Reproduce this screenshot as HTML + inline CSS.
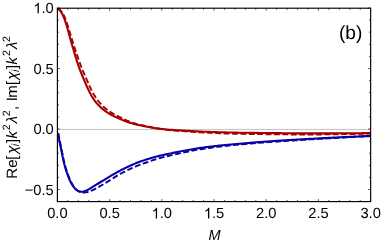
<!DOCTYPE html>
<html><head><meta charset="utf-8"><title>plot</title>
<style>
html,body{margin:0;padding:0;background:#fff;}
body{width:382px;height:244px;overflow:hidden;}
svg{display:block;will-change:transform;}
text{font-family:"Liberation Sans",sans-serif;fill:#000;text-rendering:geometricPrecision;}
</style></head><body>
<svg width="382" height="244" viewBox="0 0 382 244">
<rect width="382" height="244" fill="#fff"/>
<defs><clipPath id="c"><rect x="57.4" y="8.2" width="313.25" height="193.4"/></clipPath></defs><line x1="57.4" y1="129.45" x2="370.65" y2="129.45" stroke="#a8a8a8" stroke-width="0.7"/><g clip-path="url(#c)" fill="none" stroke-linejoin="round"><path d="M57.80 8.30 L59.16 9.23 L60.15 10.07 L61.16 11.11 L62.05 12.27 L62.84 13.52 L63.56 14.82 L64.22 16.15 L64.83 17.49 L65.39 18.85 L65.91 20.24 L66.42 21.63 L66.90 23.04 L67.37 24.44 L67.83 25.85 L68.27 27.26 L68.70 28.67 L69.13 30.08 L69.55 31.50 L69.97 32.91 L70.39 34.33 L70.82 35.74 L71.24 37.16 L71.67 38.57 L72.11 39.98 L72.55 41.39 L73.01 42.80 L73.46 44.20 L73.93 45.60 L74.40 47.00 L74.86 48.40 L75.33 49.81 L75.80 51.21 L76.27 52.61 L76.74 54.01 L77.22 55.41 L77.69 56.80 L78.17 58.20 L78.66 59.59 L79.15 60.99 L79.65 62.38 L80.15 63.77 L80.65 65.16 L81.17 66.54 L81.69 67.92 L82.23 69.30 L82.78 70.67 L83.35 72.03 L83.94 73.38 L84.53 74.74 L85.13 76.08 L85.74 77.43 L86.35 78.78 L86.95 80.13 L87.55 81.48 L88.14 82.84 L88.73 84.20 L89.32 85.55 L89.93 86.90 L90.55 88.24 L91.19 89.57 L91.86 90.88 L92.56 92.18 L93.28 93.47 L94.03 94.75 L94.81 96.01 L95.61 97.26 L96.44 98.48 L97.29 99.68 L98.18 100.85 L99.10 102.00 L100.06 103.12 L101.06 104.23 L102.09 105.30 L103.14 106.34 L104.22 107.34 L105.33 108.31 L106.47 109.24 L107.64 110.14 L108.84 111.01 L110.07 111.84 L111.31 112.64 L112.57 113.41 L113.85 114.14 L115.15 114.83 L116.46 115.50 L117.79 116.16 L119.13 116.80 L120.46 117.45 L121.79 118.10 L123.12 118.75 L124.44 119.40 L125.78 120.04 L127.12 120.65 L128.48 121.22 L129.85 121.77 L131.23 122.29 L132.62 122.79 L134.03 123.26 L135.44 123.70 L136.85 124.11 L138.28 124.49 L139.71 124.84 L141.14 125.17 L142.59 125.48 L144.04 125.78 L145.49 126.08 L146.94 126.37 L148.38 126.67 L149.83 126.97 L151.28 127.29 L152.72 127.60 L154.16 127.91 L155.61 128.19 L157.07 128.45 L158.52 128.69 L159.98 128.91 L161.44 129.13 L162.91 129.33 L164.37 129.52 L165.84 129.70 L167.31 129.87 L168.78 130.03 L170.25 130.18 L171.72 130.31 L173.19 130.44 L174.66 130.55 L176.13 130.66 L177.61 130.77 L179.08 130.87 L180.55 130.97 L182.03 131.07 L183.50 131.17 L184.98 131.27 L186.45 131.37 L187.92 131.48 L189.40 131.59 L190.87 131.69 L192.34 131.79 L193.82 131.90 L195.29 132.00 L196.76 132.10 L198.24 132.19 L199.71 132.28 L201.19 132.37 L202.66 132.45 L204.14 132.53 L205.61 132.60 L207.09 132.67 L208.56 132.75 L210.04 132.82 L211.51 132.89 L212.99 132.95 L214.46 133.02 L215.94 133.09 L217.41 133.15 L218.89 133.21 L220.37 133.27 L221.84 133.33 L223.32 133.38 L224.79 133.43 L226.27 133.48 L227.75 133.53 L229.22 133.58 L230.70 133.62 L232.18 133.66 L233.65 133.69 L235.13 133.73 L236.61 133.76 L238.08 133.79 L239.56 133.82 L241.03 133.85 L242.51 133.88 L243.99 133.90 L245.46 133.93 L246.94 133.95 L248.42 133.98 L249.90 134.00 L251.37 134.02 L252.85 134.04 L254.33 134.06 L255.80 134.08 L257.28 134.10 L258.76 134.12 L260.23 134.14 L261.71 134.16 L263.19 134.17 L264.67 134.19 L266.14 134.20 L267.62 134.22 L269.10 134.23 L270.57 134.24 L272.05 134.26 L273.53 134.27 L275.00 134.29 L276.48 134.30 L277.96 134.32 L279.43 134.33 L280.91 134.34 L282.39 134.36 L283.87 134.37 L285.34 134.38 L286.82 134.39 L288.30 134.41 L289.77 134.42 L291.25 134.43 L292.73 134.44 L294.20 134.45 L295.68 134.46 L297.16 134.46 L298.64 134.47 L300.11 134.48 L301.59 134.48 L303.07 134.49 L304.54 134.49 L306.02 134.50 L307.50 134.50 L308.97 134.50 L310.45 134.50 L311.93 134.50 L313.40 134.49 L314.88 134.49 L316.36 134.48 L317.84 134.47 L319.31 134.46 L320.79 134.44 L322.27 134.43 L323.74 134.41 L325.22 134.40 L326.70 134.38 L328.17 134.36 L329.65 134.34 L331.13 134.32 L332.60 134.30 L334.08 134.28 L335.56 134.26 L337.04 134.24 L338.51 134.22 L339.99 134.20 L341.47 134.18 L342.94 134.16 L344.42 134.14 L345.90 134.11 L347.37 134.09 L348.85 134.06 L350.33 134.04 L351.80 134.01 L353.28 133.98 L354.76 133.96 L356.23 133.93 L357.71 133.90 L359.19 133.87 L360.66 133.84 L362.14 133.80 L363.62 133.77 L365.09 133.74 L366.57 133.70 L368.05 133.67 L369.36 133.64 L371.00 133.60" stroke="#a80000" stroke-width="1.9" stroke-dasharray="5.8 2.6"/><path d="M57.50 8.30 L58.80 9.32 L59.73 10.23 L60.67 11.34 L61.49 12.56 L62.22 13.87 L62.88 15.21 L63.49 16.56 L64.05 17.93 L64.57 19.32 L65.06 20.73 L65.54 22.14 L65.99 23.56 L66.44 24.98 L66.87 26.40 L67.28 27.82 L67.69 29.25 L68.09 30.68 L68.48 32.11 L68.87 33.55 L69.25 34.98 L69.64 36.41 L70.02 37.85 L70.42 39.28 L70.82 40.70 L71.24 42.13 L71.66 43.55 L72.08 44.98 L72.51 46.40 L72.94 47.82 L73.37 49.24 L73.79 50.66 L74.22 52.08 L74.64 53.51 L75.06 54.93 L75.48 56.35 L75.91 57.77 L76.35 59.19 L76.80 60.61 L77.25 62.02 L77.72 63.43 L78.19 64.84 L78.67 66.24 L79.16 67.65 L79.66 69.04 L80.17 70.43 L80.71 71.82 L81.25 73.20 L81.81 74.57 L82.38 75.94 L82.96 77.31 L83.54 78.68 L84.12 80.05 L84.70 81.41 L85.28 82.78 L85.86 84.15 L86.45 85.51 L87.05 86.87 L87.67 88.22 L88.31 89.56 L88.96 90.89 L89.63 92.21 L90.33 93.53 L91.04 94.85 L91.78 96.15 L92.54 97.43 L93.33 98.68 L94.15 99.90 L95.02 101.09 L95.92 102.25 L96.88 103.39 L97.88 104.50 L98.91 105.58 L99.98 106.62 L101.07 107.64 L102.18 108.61 L103.32 109.55 L104.49 110.46 L105.69 111.33 L106.92 112.18 L108.17 112.99 L109.44 113.77 L110.72 114.51 L112.02 115.22 L113.34 115.90 L114.68 116.54 L116.03 117.16 L117.39 117.77 L118.75 118.36 L120.12 118.95 L121.48 119.53 L122.85 120.11 L124.23 120.67 L125.61 121.22 L127.00 121.73 L128.40 122.21 L129.81 122.67 L131.23 123.10 L132.66 123.52 L134.09 123.91 L135.53 124.28 L136.97 124.63 L138.42 124.96 L139.87 125.28 L141.32 125.58 L142.78 125.87 L144.23 126.15 L145.69 126.42 L147.16 126.69 L148.62 126.95 L150.08 127.21 L151.54 127.47 L153.01 127.71 L154.47 127.95 L155.94 128.17 L157.41 128.37 L158.88 128.57 L160.35 128.75 L161.83 128.93 L163.30 129.11 L164.78 129.27 L166.26 129.42 L167.73 129.57 L169.21 129.70 L170.69 129.81 L172.17 129.92 L173.65 130.02 L175.13 130.11 L176.61 130.20 L178.10 130.28 L179.58 130.36 L181.06 130.44 L182.54 130.52 L184.03 130.60 L185.51 130.69 L186.99 130.78 L188.47 130.87 L189.95 130.96 L191.43 131.05 L192.92 131.14 L194.40 131.23 L195.88 131.31 L197.36 131.40 L198.84 131.48 L200.33 131.55 L201.81 131.62 L203.29 131.68 L204.77 131.75 L206.26 131.80 L207.74 131.86 L209.22 131.91 L210.71 131.97 L212.19 132.02 L213.67 132.07 L215.16 132.12 L216.64 132.17 L218.12 132.21 L219.61 132.26 L221.09 132.30 L222.58 132.34 L224.06 132.38 L225.54 132.42 L227.03 132.46 L228.51 132.49 L230.00 132.52 L231.48 132.55 L232.96 132.58 L234.45 132.61 L235.93 132.63 L237.42 132.66 L238.90 132.68 L240.38 132.70 L241.87 132.72 L243.35 132.75 L244.84 132.76 L246.32 132.78 L247.81 132.80 L249.29 132.82 L250.77 132.84 L252.26 132.85 L253.74 132.87 L255.23 132.89 L256.71 132.90 L258.20 132.92 L259.68 132.93 L261.16 132.95 L262.65 132.96 L264.13 132.98 L265.62 133.00 L267.10 133.01 L268.58 133.03 L270.07 133.05 L271.55 133.06 L273.04 133.08 L274.52 133.10 L276.01 133.12 L277.49 133.13 L278.97 133.15 L280.46 133.17 L281.94 133.19 L283.43 133.21 L284.91 133.22 L286.40 133.24 L287.88 133.26 L289.36 133.27 L290.85 133.29 L292.33 133.30 L293.82 133.32 L295.30 133.33 L296.79 133.34 L298.27 133.35 L299.75 133.36 L301.24 133.37 L302.72 133.38 L304.21 133.39 L305.69 133.39 L307.18 133.40 L308.66 133.40 L310.14 133.40 L311.63 133.40 L313.11 133.40 L314.60 133.40 L316.08 133.39 L317.57 133.39 L319.05 133.39 L320.53 133.38 L322.02 133.38 L323.50 133.37 L324.99 133.37 L326.47 133.36 L327.96 133.35 L329.44 133.35 L330.92 133.34 L332.41 133.33 L333.89 133.33 L335.38 133.32 L336.86 133.31 L338.35 133.31 L339.83 133.30 L341.31 133.29 L342.80 133.29 L344.28 133.28 L345.77 133.27 L347.25 133.26 L348.74 133.26 L350.22 133.25 L351.70 133.24 L353.19 133.23 L354.67 133.22 L356.16 133.21 L357.64 133.20 L359.13 133.19 L360.61 133.18 L362.09 133.17 L363.58 133.16 L365.06 133.15 L366.55 133.13 L368.03 133.12 L369.35 133.11 L371.00 133.10" stroke="#a80000" stroke-width="2.1"/><path d="M58.20 133.00 L58.50 134.54 L58.74 135.77 L59.02 137.15 L59.30 138.53 L59.58 139.91 L59.86 141.29 L60.15 142.67 L60.44 144.05 L60.73 145.43 L61.03 146.81 L61.32 148.19 L61.61 149.57 L61.89 150.95 L62.16 152.33 L62.43 153.71 L62.70 155.10 L62.98 156.48 L63.26 157.86 L63.56 159.24 L63.87 160.61 L64.19 161.98 L64.52 163.35 L64.87 164.72 L65.23 166.08 L65.61 167.44 L66.01 168.79 L66.43 170.14 L66.87 171.48 L67.32 172.81 L67.80 174.14 L68.29 175.46 L68.81 176.78 L69.35 178.08 L69.92 179.37 L70.51 180.65 L71.13 181.92 L71.78 183.18 L72.46 184.43 L73.19 185.65 L73.96 186.82 L74.81 187.94 L75.73 189.00 L76.75 189.96 L77.87 190.81 L79.08 191.50 L80.37 192.03 L81.73 192.36 L83.12 192.51 L84.52 192.52 L85.91 192.39 L87.28 192.12 L88.62 191.72 L89.95 191.22 L91.26 190.68 L92.55 190.13 L93.84 189.54 L95.11 188.93 L96.36 188.28 L97.59 187.60 L98.81 186.90 L100.03 186.18 L101.24 185.46 L102.45 184.74 L103.66 184.02 L104.88 183.30 L106.08 182.58 L107.29 181.85 L108.50 181.12 L109.70 180.38 L110.89 179.63 L112.08 178.87 L113.27 178.11 L114.45 177.34 L115.64 176.59 L116.84 175.85 L118.05 175.13 L119.27 174.43 L120.50 173.75 L121.75 173.08 L122.99 172.42 L124.25 171.78 L125.51 171.14 L126.77 170.52 L128.04 169.91 L129.32 169.31 L130.60 168.72 L131.88 168.15 L133.18 167.58 L134.47 167.03 L135.78 166.49 L137.08 165.97 L138.40 165.45 L139.71 164.95 L141.03 164.45 L142.35 163.96 L143.67 163.47 L145.00 162.99 L146.32 162.50 L147.65 162.02 L148.97 161.55 L150.30 161.08 L151.64 160.63 L152.98 160.18 L154.32 159.75 L155.66 159.32 L157.01 158.90 L158.36 158.49 L159.71 158.10 L161.07 157.73 L162.43 157.37 L163.80 157.03 L165.16 156.69 L166.54 156.37 L167.91 156.04 L169.28 155.73 L170.66 155.41 L172.03 155.09 L173.40 154.77 L174.78 154.45 L176.15 154.14 L177.52 153.82 L178.90 153.50 L180.27 153.19 L181.65 152.89 L183.03 152.59 L184.40 152.30 L185.78 152.01 L187.16 151.73 L188.55 151.46 L189.93 151.19 L191.31 150.93 L192.70 150.67 L194.09 150.41 L195.47 150.16 L196.86 149.92 L198.25 149.68 L199.64 149.44 L201.03 149.21 L202.42 148.99 L203.82 148.77 L205.21 148.56 L206.60 148.35 L208.00 148.14 L209.39 147.94 L210.79 147.74 L212.18 147.55 L213.58 147.36 L214.98 147.18 L216.38 147.00 L217.77 146.82 L219.17 146.65 L220.57 146.48 L221.97 146.32 L223.37 146.16 L224.77 146.01 L226.17 145.86 L227.58 145.71 L228.98 145.56 L230.38 145.42 L231.78 145.28 L233.19 145.14 L234.59 145.01 L235.99 144.88 L237.40 144.74 L238.80 144.61 L240.20 144.48 L241.61 144.35 L243.01 144.23 L244.41 144.10 L245.82 143.97 L247.22 143.85 L248.63 143.72 L250.03 143.60 L251.43 143.48 L252.84 143.36 L254.24 143.24 L255.65 143.12 L257.05 143.01 L258.46 142.89 L259.86 142.78 L261.27 142.67 L262.67 142.56 L264.08 142.45 L265.48 142.34 L266.89 142.23 L268.29 142.13 L269.70 142.02 L271.10 141.92 L272.51 141.82 L273.91 141.72 L275.32 141.62 L276.73 141.53 L278.13 141.43 L279.54 141.34 L280.95 141.24 L282.35 141.15 L283.76 141.06 L285.16 140.97 L286.57 140.88 L287.98 140.79 L289.38 140.70 L290.79 140.61 L292.20 140.52 L293.60 140.44 L295.01 140.35 L296.42 140.26 L297.83 140.18 L299.23 140.09 L300.64 140.01 L302.05 139.92 L303.45 139.83 L304.86 139.75 L306.27 139.66 L307.67 139.58 L309.08 139.49 L310.49 139.41 L311.89 139.32 L313.30 139.24 L314.71 139.15 L316.11 139.07 L317.52 138.98 L318.93 138.90 L320.33 138.82 L321.74 138.74 L323.15 138.65 L324.56 138.57 L325.96 138.49 L327.37 138.41 L328.78 138.33 L330.18 138.25 L331.59 138.17 L333.00 138.09 L334.41 138.01 L335.81 137.93 L337.22 137.85 L338.63 137.78 L340.03 137.70 L341.44 137.62 L342.85 137.55 L344.26 137.47 L345.66 137.39 L347.07 137.32 L348.48 137.24 L349.89 137.17 L351.29 137.10 L352.70 137.02 L354.11 136.95 L355.52 136.88 L356.92 136.80 L358.33 136.73 L359.74 136.66 L361.15 136.59 L362.55 136.52 L363.96 136.45 L365.37 136.38 L366.78 136.31 L368.18 136.24 L369.44 136.18 L371.00 136.10" stroke="#0a00a8" stroke-width="1.9" stroke-dasharray="5.8 2.6"/><path d="M57.90 133.00 L58.18 134.54 L58.40 135.78 L58.66 137.16 L58.93 138.55 L59.19 139.93 L59.47 141.32 L59.75 142.70 L60.04 144.08 L60.33 145.46 L60.63 146.84 L60.92 148.22 L61.21 149.60 L61.49 150.98 L61.77 152.37 L62.04 153.75 L62.31 155.14 L62.59 156.52 L62.87 157.90 L63.17 159.28 L63.48 160.66 L63.80 162.03 L64.14 163.40 L64.48 164.77 L64.85 166.13 L65.23 167.49 L65.63 168.84 L66.05 170.19 L66.48 171.53 L66.94 172.87 L67.41 174.20 L67.89 175.53 L68.39 176.86 L68.92 178.17 L69.47 179.46 L70.06 180.74 L70.68 182.01 L71.34 183.27 L72.05 184.50 L72.80 185.71 L73.61 186.86 L74.48 187.96 L75.44 188.98 L76.51 189.90 L77.67 190.68 L78.93 191.27 L80.26 191.63 L81.64 191.75 L83.02 191.64 L84.38 191.34 L85.69 190.86 L86.96 190.25 L88.20 189.57 L89.43 188.88 L90.66 188.17 L91.87 187.44 L93.07 186.71 L94.27 185.97 L95.48 185.22 L96.68 184.48 L97.88 183.74 L99.08 183.00 L100.27 182.25 L101.47 181.51 L102.67 180.77 L103.87 180.03 L105.08 179.29 L106.28 178.56 L107.49 177.83 L108.70 177.11 L109.92 176.39 L111.13 175.67 L112.35 174.96 L113.57 174.26 L114.80 173.56 L116.03 172.87 L117.26 172.18 L118.50 171.51 L119.75 170.84 L121.00 170.19 L122.25 169.54 L123.51 168.91 L124.78 168.28 L126.04 167.67 L127.32 167.06 L128.59 166.46 L129.87 165.86 L131.16 165.27 L132.45 164.70 L133.74 164.14 L135.04 163.60 L136.35 163.07 L137.66 162.55 L138.98 162.05 L140.31 161.56 L141.63 161.09 L142.97 160.62 L144.30 160.17 L145.64 159.73 L146.99 159.30 L148.33 158.89 L149.69 158.48 L151.04 158.08 L152.40 157.69 L153.75 157.32 L155.12 156.95 L156.48 156.59 L157.85 156.23 L159.22 155.89 L160.59 155.56 L161.96 155.24 L163.34 154.93 L164.71 154.63 L166.09 154.33 L167.47 154.04 L168.86 153.75 L170.24 153.46 L171.62 153.18 L173.00 152.89 L174.38 152.61 L175.77 152.33 L177.15 152.05 L178.53 151.77 L179.92 151.50 L181.30 151.23 L182.69 150.96 L184.07 150.70 L185.46 150.44 L186.85 150.19 L188.24 149.95 L189.63 149.71 L191.02 149.47 L192.41 149.23 L193.80 149.00 L195.19 148.77 L196.59 148.55 L197.98 148.33 L199.37 148.11 L200.77 147.91 L202.17 147.70 L203.56 147.51 L204.96 147.32 L206.36 147.13 L207.76 146.95 L209.16 146.78 L210.56 146.61 L211.96 146.44 L213.36 146.27 L214.76 146.11 L216.16 145.96 L217.57 145.80 L218.97 145.65 L220.37 145.51 L221.78 145.36 L223.18 145.22 L224.58 145.08 L225.99 144.95 L227.39 144.81 L228.80 144.68 L230.20 144.56 L231.61 144.43 L233.01 144.31 L234.42 144.18 L235.82 144.06 L237.23 143.94 L238.63 143.82 L240.04 143.70 L241.45 143.58 L242.85 143.46 L244.26 143.34 L245.66 143.22 L247.07 143.10 L248.47 142.98 L249.88 142.86 L251.29 142.74 L252.69 142.63 L254.10 142.51 L255.51 142.40 L256.91 142.29 L258.32 142.17 L259.72 142.06 L261.13 141.96 L262.54 141.85 L263.94 141.74 L265.35 141.64 L266.76 141.53 L268.16 141.43 L269.57 141.33 L270.98 141.23 L272.39 141.14 L273.79 141.04 L275.20 140.95 L276.61 140.85 L278.02 140.76 L279.42 140.67 L280.83 140.58 L282.24 140.49 L283.65 140.40 L285.06 140.31 L286.46 140.23 L287.87 140.14 L289.28 140.06 L290.69 139.97 L292.10 139.89 L293.51 139.81 L294.91 139.72 L296.32 139.64 L297.73 139.56 L299.14 139.48 L300.55 139.40 L301.96 139.32 L303.37 139.24 L304.77 139.16 L306.18 139.08 L307.59 139.00 L309.00 138.92 L310.41 138.84 L311.82 138.76 L313.23 138.68 L314.63 138.61 L316.04 138.53 L317.45 138.46 L318.86 138.38 L320.27 138.30 L321.68 138.23 L323.09 138.16 L324.50 138.08 L325.90 138.01 L327.31 137.94 L328.72 137.86 L330.13 137.79 L331.54 137.72 L332.95 137.65 L334.36 137.58 L335.77 137.51 L337.18 137.44 L338.59 137.37 L339.99 137.30 L341.40 137.23 L342.81 137.16 L344.22 137.10 L345.63 137.03 L347.04 136.96 L348.45 136.90 L349.86 136.83 L351.27 136.77 L352.68 136.70 L354.09 136.64 L355.50 136.57 L356.91 136.51 L358.31 136.45 L359.72 136.38 L361.13 136.32 L362.54 136.26 L363.95 136.20 L365.36 136.14 L366.77 136.08 L368.18 136.02 L369.43 135.97 L371.00 135.90" stroke="#0a00a8" stroke-width="2.1"/></g><path d="M57.40 201.6 v-2.5 M57.40 8.2 v2.5 M67.84 201.6 v-1.65 M67.84 8.2 v1.65 M78.28 201.6 v-1.65 M78.28 8.2 v1.65 M88.72 201.6 v-1.65 M88.72 8.2 v1.65 M99.17 201.6 v-1.65 M99.17 8.2 v1.65 M109.61 201.6 v-2.5 M109.61 8.2 v2.5 M120.05 201.6 v-1.65 M120.05 8.2 v1.65 M130.49 201.6 v-1.65 M130.49 8.2 v1.65 M140.93 201.6 v-1.65 M140.93 8.2 v1.65 M151.38 201.6 v-1.65 M151.38 8.2 v1.65 M161.82 201.6 v-2.5 M161.82 8.2 v2.5 M172.26 201.6 v-1.65 M172.26 8.2 v1.65 M182.70 201.6 v-1.65 M182.70 8.2 v1.65 M193.14 201.6 v-1.65 M193.14 8.2 v1.65 M203.58 201.6 v-1.65 M203.58 8.2 v1.65 M214.03 201.6 v-2.5 M214.03 8.2 v2.5 M224.47 201.6 v-1.65 M224.47 8.2 v1.65 M234.91 201.6 v-1.65 M234.91 8.2 v1.65 M245.35 201.6 v-1.65 M245.35 8.2 v1.65 M255.79 201.6 v-1.65 M255.79 8.2 v1.65 M266.23 201.6 v-2.5 M266.23 8.2 v2.5 M276.68 201.6 v-1.65 M276.68 8.2 v1.65 M287.12 201.6 v-1.65 M287.12 8.2 v1.65 M297.56 201.6 v-1.65 M297.56 8.2 v1.65 M308.00 201.6 v-1.65 M308.00 8.2 v1.65 M318.44 201.6 v-2.5 M318.44 8.2 v2.5 M328.88 201.6 v-1.65 M328.88 8.2 v1.65 M339.32 201.6 v-1.65 M339.32 8.2 v1.65 M349.77 201.6 v-1.65 M349.77 8.2 v1.65 M360.21 201.6 v-1.65 M360.21 8.2 v1.65 M370.65 201.6 v-2.5 M370.65 8.2 v2.5 M57.4 189.50 h2.5 M370.65 189.50 h-2.5 M57.4 177.40 h1.65 M370.65 177.40 h-1.65 M57.4 165.30 h1.65 M370.65 165.30 h-1.65 M57.4 153.20 h1.65 M370.65 153.20 h-1.65 M57.4 141.10 h1.65 M370.65 141.10 h-1.65 M57.4 129.00 h2.5 M370.65 129.00 h-2.5 M57.4 116.90 h1.65 M370.65 116.90 h-1.65 M57.4 104.80 h1.65 M370.65 104.80 h-1.65 M57.4 92.70 h1.65 M370.65 92.70 h-1.65 M57.4 80.60 h1.65 M370.65 80.60 h-1.65 M57.4 68.50 h2.5 M370.65 68.50 h-2.5 M57.4 56.40 h1.65 M370.65 56.40 h-1.65 M57.4 44.30 h1.65 M370.65 44.30 h-1.65 M57.4 32.20 h1.65 M370.65 32.20 h-1.65 M57.4 20.10 h1.65 M370.65 20.10 h-1.65 M57.4 8.00 h2.5 M370.65 8.00 h-2.5" stroke="#000" stroke-width="0.65" fill="none"/><rect x="57.4" y="8.2" width="313.25" height="193.40" fill="none" stroke="#000" stroke-width="1.15"/><text x="57.40" y="218.40" font-size="14.7" text-anchor="middle">0.0</text><text x="109.61" y="218.40" font-size="14.7" text-anchor="middle">0.5</text><path transform="translate(151.60 218.40) scale(0.00718 -0.00718)" d="M763 0H583V1147Q518 1085 412.5 1023T223 930V1104Q374 1175 487 1276T647 1472H763Z" fill="#000"/><text x="159.77" y="218.40" font-size="14.7">.0</text><path transform="translate(203.81 218.40) scale(0.00718 -0.00718)" d="M763 0H583V1147Q518 1085 412.5 1023T223 930V1104Q374 1175 487 1276T647 1472H763Z" fill="#000"/><text x="211.98" y="218.40" font-size="14.7">.5</text><text x="266.23" y="218.40" font-size="14.7" text-anchor="middle">2.0</text><text x="318.44" y="218.40" font-size="14.7" text-anchor="middle">2.5</text><text x="370.65" y="218.40" font-size="14.7" text-anchor="middle">3.0</text><path transform="translate(33.36 13.30) scale(0.00718 -0.00718)" d="M763 0H583V1147Q518 1085 412.5 1023T223 930V1104Q374 1175 487 1276T647 1472H763Z" fill="#000"/><text x="41.54" y="13.30" font-size="14.7">.0</text><text x="53.80" y="73.80" font-size="14.7" text-anchor="end">0.5</text><text x="53.80" y="134.30" font-size="14.7" text-anchor="end">0.0</text><text x="53.80" y="194.80" font-size="14.7" text-anchor="end">−0.5</text><text x="214.6" y="240" font-size="14.5" font-style="italic" text-anchor="middle">M</text><g transform="rotate(-90)"><text x="-178.69" y="17.3" font-size="15.0">R</text><text x="-167.80" y="17.3" font-size="15.0">e</text><text x="-159.68" y="17.3" font-size="15.0">[</text><text x="-153.84" y="17.3" font-size="15.0" font-style="italic">χ</text><text x="-146.23" y="19.4" font-size="10.6" font-style="italic">i</text><text x="-143.09" y="17.3" font-size="15.0">]</text><text x="-138.62" y="17.3" font-size="15.0" font-style="italic">k</text><text x="-130.27" y="9.8" font-size="10.6">2</text><text x="-123.20" y="17.3" font-size="15.0" font-style="italic">λ</text><text x="-116.22" y="9.8" font-size="10.6">2</text><text x="-109.96" y="17.3" font-size="15.0">,</text><text x="-101.24" y="17.3" font-size="15.0">I</text><text x="-97.73" y="17.3" font-size="15.0">m</text><text x="-85.03" y="17.3" font-size="15.0">[</text><text x="-79.64" y="17.3" font-size="15.0" font-style="italic">χ</text><text x="-72.03" y="19.4" font-size="10.6" font-style="italic">i</text><text x="-68.89" y="17.3" font-size="15.0">]</text><text x="-64.42" y="17.3" font-size="15.0" font-style="italic">k</text><text x="-56.07" y="9.8" font-size="10.6">2</text><text x="-49.00" y="17.3" font-size="15.0" font-style="italic">λ</text><text x="-42.02" y="9.8" font-size="10.6">2</text></g><text x="350.6" y="38.6" font-size="19.1" text-anchor="middle">(b)</text></svg></body></html>
